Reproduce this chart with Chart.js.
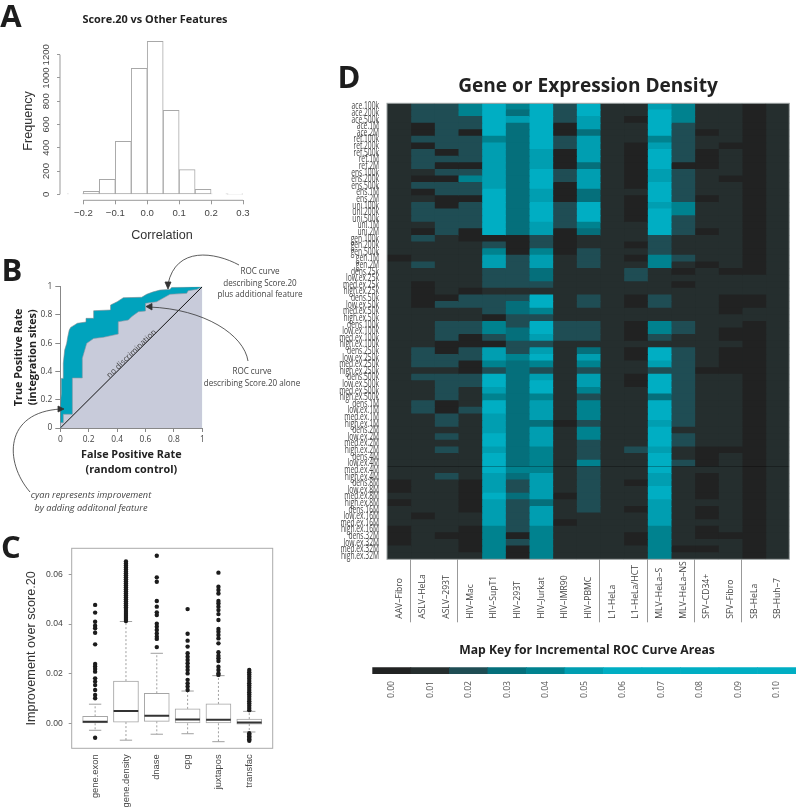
<!DOCTYPE html>
<html>
<head>
<meta charset="utf-8">
<script src="https://cdn.jsdelivr.net/npm/chart.js@4"></script>
<style>
  body { margin: 0; background: #fff; width: 796px; height: 809px; position: relative; overflow: hidden; }
  canvas { position: absolute; }
  svg { position: absolute; left: 0; top: 0; pointer-events: none; }
  .t { position: absolute; white-space: nowrap; transform: translate(-50%, -50%); text-align: center; }
  .letter { font: 700 31px "Open Sans"; color: #1d1d1d; line-height: 1; }
  .head { font-family: "Open Sans"; font-weight: 700; color: #222; }
  .note { font: 8.1px/11.5px "Open Sans"; color: #444; }
  .sans { font-family: "Liberation Sans"; color: #333; }
</style>
</head>
<body>
<canvas id="hist" width="270" height="250" style="left:0;top:0"></canvas>
<canvas id="roc" width="270" height="208" style="left:0;top:270px"></canvas>
<canvas id="box" width="280" height="284" style="left:0;top:525px"></canvas>
<canvas id="heat" width="466" height="540" style="left:330px;top:95px"></canvas>
<canvas id="key" width="436" height="45" style="left:360px;top:660px"></canvas>

<svg width="796" height="809" fill="none" stroke="#333" stroke-width="0.8">
  <path d="M239 265 C215 252 176 246 168 284"/>
  <path d="M248 361 C244 335 205 309 149 307"/>
  <path d="M30 492 C4 462 4 412 61 409"/>
  <path d="M168 289 L165 282 L171 282 Z" fill="#333"/>
  <path d="M146 306.5 L152 303.5 L152 310 Z" fill="#333"/>
  <path d="M64 409 L58 406 L58 412 Z" fill="#333"/>
</svg>

<div class="t letter" style="left:11px;top:15px">A</div>
<div class="t letter" style="left:12px;top:269px">B</div>
<div class="t letter" style="left:11px;top:546px">C</div>
<div class="t letter" style="left:349px;top:76px">D</div>

<div class="t head" style="left:155px;top:18px;font-size:10.9px">Score.20 vs Other Features</div>
<div class="t sans" style="left:162px;top:235px;font-size:12.6px">Correlation</div>
<div class="t sans" style="left:28px;top:121px;font-size:12.6px;transform:translate(-50%,-50%) rotate(-90deg)">Frequency</div>

<div class="t note" style="left:260px;top:282px">ROC curve<br>describing Score.20<br>plus additional feature</div>
<div class="t note" style="left:252px;top:376px">ROC curve<br>describing Score.20 alone</div>
<div class="t note" style="left:91px;top:501px;font-size:9.2px;font-style:italic;line-height:13px">cyan represents improvement<br>by adding additonal feature</div>
<div class="t note" style="left:131px;top:353px;transform:translate(-50%,-50%) rotate(-44deg)">no discrimination</div>

<div class="t head" style="left:588px;top:85px;font-size:19.1px">Gene or Expression Density</div>
<div class="t head" style="left:587px;top:649px;font-size:12.2px">Map Key for Incremental ROC Curve Areas</div>

<script>
// Panel A: histogram
const histCenters = [-0.225, -0.175, -0.125, -0.075, -0.025, 0.025, 0.075, 0.125, 0.175, 0.225, 0.275];
const histCounts = [3, 26, 129, 456, 1083, 1316, 722, 212, 43, 3, 2];
const histXTicks = [-0.2, -0.1, 0, 0.1, 0.2, 0.3];
const histYTicks = [0, 200, 400, 600, 800, 1000, 1200];

// Panel B: ROC curves
const fprPlus = [0, 0, 0.007, 0.007, 0.021, 0.021, 0.031, 0.045, 0.052, 0.063, 0.073, 0.096, 0.12, 0.181, 0.181, 0.235, 0.235, 0.354, 0.354, 0.401, 0.444, 0.573, 0.608, 0.65, 0.702, 0.772, 0.784, 1];
const tprPlus = [0, 0.151, 0.245, 0.351, 0.351, 0.458, 0.552, 0.599, 0.642, 0.693, 0.712, 0.726, 0.741, 0.75, 0.776, 0.776, 0.83, 0.835, 0.87, 0.894, 0.922, 0.925, 0.946, 0.962, 0.976, 0.981, 0.995, 1];
const fprAlone = [0, 0, 0.021, 0.021, 0.085, 0.085, 0.155, 0.155, 0.186, 0.235, 0.304, 0.408, 0.408, 0.479, 0.502, 0.55, 0.6, 0.6, 0.678, 0.772, 0.89, 0.901, 0.96, 1];
const tprAlone = [0, 0.038, 0.038, 0.097, 0.097, 0.354, 0.354, 0.493, 0.599, 0.634, 0.642, 0.665, 0.752, 0.764, 0.788, 0.823, 0.828, 0.882, 0.893, 0.946, 0.953, 0.972, 0.981, 1];
const diagonal = [0, 1];

// Panel C: box plots
const boxNames = ['gene.exon', 'gene.density', 'dnase', 'cpg', 'juxtapos', 'transfac'];
const boxQ1 = [0.0000, 0.0005, 0.0008, 0.0000, 0.0000, -0.0003];
const boxMedian = [0.0006, 0.0050, 0.0030, 0.0015, 0.0014, 0.0003];
const boxQ3 = [0.0028, 0.0170, 0.0121, 0.0058, 0.0078, 0.0017];
const boxLow = [-0.0028, -0.0068, -0.0044, -0.0042, -0.0074, -0.0035];
const boxHigh = [0.0077, 0.0410, 0.0282, 0.0130, 0.0192, 0.0048];
const geneExonOut = [-0.0058, 0.0477, 0.0446, 0.0409, 0.0393, 0.0383, 0.0365, 0.0318, 0.0239, 0.0229, 0.0219, 0.0208, 0.0181, 0.0168, 0.0154, 0.0134, 0.0114, 0.0101];
const geneDensityOut = [0.0412, 0.0420, 0.0428, 0.0436, 0.0444, 0.0452, 0.0460, 0.0468, 0.0476, 0.0484, 0.0492, 0.0500, 0.0508, 0.0516, 0.0524, 0.0532, 0.0540, 0.0548, 0.0556, 0.0564, 0.0572, 0.0580, 0.0588, 0.0596, 0.0604, 0.0612, 0.0620, 0.0628, 0.0636, 0.0644, 0.0652];
const dnaseOut = [0.0675, 0.0588, 0.0570, 0.0493, 0.0470, 0.0447, 0.0436, 0.0401, 0.0389, 0.0376, 0.0362, 0.0349, 0.0340, 0.0307];
const cpgOut = [0.0460, 0.0361, 0.0333, 0.0309, 0.0282, 0.0268, 0.0255, 0.0242, 0.0228, 0.0215, 0.0201, 0.0175, 0.0161, 0.0148, 0.0134];
const juxtaposOut = [0.0607, 0.0550, 0.0537, 0.0523, 0.0493, 0.0483, 0.0470, 0.0456, 0.0440, 0.0416, 0.0380, 0.0369, 0.0356, 0.0342, 0.0322, 0.0286, 0.0272, 0.0262, 0.0251, 0.0228, 0.0215, 0.0201, 0.0195];
const transfacOut = [0.0215, 0.0206, 0.0197, 0.0188, 0.0179, 0.0170, 0.0161, 0.0152, 0.0143, 0.0134, 0.0125, 0.0116, 0.0107, 0.0098, 0.0089, 0.0080, 0.0071, 0.0062, 0.0053, -0.0040, -0.0046, -0.0052, -0.0058, -0.0064, -0.0070];
const boxOutliers = [geneExonOut, geneDensityOut, dnaseOut, cpgOut, juxtaposOut, transfacOut];

// Panel D: heat map, values in hundredths of incremental ROC area
const rowNames = ['ace.100k', 'ace.200k', 'ace.500k', 'ace.1M', 'ace.2M', 'ref.100k', 'ref.200k', 'ref.500k', 'ref.1M', 'ref.2M',
  'ens.100k', 'ens.200k', 'ens.500k', 'ens.1M', 'ens.2M', 'uni.100k', 'uni.200k', 'uni.500k', 'uni.1M', 'uni.2M',
  'gen.100k', 'gen.200k', 'gen.500k', 'gen.1M', 'gen.2M',
  'dens.25k', 'low.ex.25k', 'med.ex.25k', 'high.ex.25k', 'dens.50k', 'low.ex.50k', 'med.ex.50k', 'high.ex.50k',
  'dens.100k', 'low.ex.100k', 'med.ex.100k', 'high.ex.100k', 'dens.250k', 'low.ex.250k', 'med.ex.250k', 'high.ex.250k',
  'dens.500k', 'low.ex.500k', 'med.ex.500k', 'high.ex.500k', 'dens.1M', 'low.ex.1M', 'med.ex.1M', 'high.ex.1M',
  'dens.2M', 'low.ex.2M', 'med.ex.2M', 'high.ex.2M', 'dens.4M', 'low.ex.4M', 'med.ex.4M', 'high.ex.4M',
  'dens.8M', 'low.ex.8M', 'med.ex.8M', 'high.ex.8M', 'dens.16M', 'low.ex.16M', 'med.ex.16M', 'high.ex.16M',
  'dens.32M', 'low.ex.32M', 'med.ex.32M', 'high.ex.32M'];
const colNames = ['AAV–Fibro', 'ASLV–HeLa', 'ASLV–293T', 'HIV–Mac', 'HIV–SupT1', 'HIV–293T', 'HIV–Jurkat', 'HIV–IMR90', 'HIV–PBMC',
  'L1–HeLa', 'L1–HeLa/HCT', 'MLV–HeLa–S', 'MLV–HeLa–NS', 'SFV–CD34+', 'SFV–Fibro', 'SB–HeLa', 'SB–Huh–7'];
const colSeparators = [1, 3, 9, 11, 13, 15];

const aavFibro = [1,1,1,1,1,1,1,1,1,1, 1,1,1,1,1,1,1,1,1,1, 1,1,1,0,1,1,1,1,1,1, 1,1,1,1,1,1,1,1,1,1, 1,1,1,1,1,1,1,1,1,1, 1,1,1,1,1,1,1,0,0,1, 0,1,1,1,0,0,0,1,1];
const aslvHela = [2,2,2,0,0,2,0,2,2,2, 1,0,2,0,1,2,2,2,1,0, 2,1,1,1,2,1,1,0,0,0, 0,1,1,1,1,1,1,2,2,2, 1,2,1,1,1,2,2,1,1,1, 1,1,1,1,1,1,1,1,1,1, 1,1,0,1,1,1,1,1,1];
const aslv293t = [2,2,2,2,2,2,2,0,2,0, 2,0,2,2,0,0,2,2,2,2, 1,1,1,1,1,1,1,1,1,0, 2,1,1,2,2,2,0,0,2,2, 1,2,2,2,2,0,0,2,2,1, 2,1,2,1,1,1,2,1,1,1, 1,1,1,1,1,0,1,1,1];
const hivMac = [4,4,2,2,0,2,2,2,2,0, 2,4,2,2,0,2,2,2,2,0, 0,1,1,1,1,1,1,1,0,2, 2,1,1,2,2,0,0,2,2,0, 0,2,2,1,1,1,2,1,1,1, 1,1,1,1,1,1,1,0,0,0, 0,0,1,1,0,0,0,0,1];
const hivSupT1 = [6,6,6,6,6,4,5,5,5,5, 5,5,5,6,6,6,6,6,6,6, 0,2,4,5,5,2,2,2,1,2, 2,2,0,4,4,2,0,5,5,4, 2,6,6,5,4,6,6,5,5,5, 6,6,5,6,6,6,5,5,5,6, 5,5,5,5,4,4,4,4,4];
const hiv293t = [4,3,5,3,3,3,3,3,3,3, 3,3,3,3,3,3,3,3,3,3, 0,0,0,2,2,2,2,2,1,2, 3,3,2,2,3,3,2,2,4,3, 3,3,3,3,3,3,3,3,3,3, 3,3,3,3,3,4,3,2,2,3, 2,2,2,2,2,0,2,0,0];
const hivJurkat = [6,6,6,6,6,6,6,5,5,5, 6,6,6,5,5,6,6,6,5,5, 2,2,4,5,5,3,3,2,1,6, 6,4,2,6,6,5,2,5,6,4, 2,5,6,6,4,5,5,5,3,5, 5,5,4,4,4,4,5,5,5,5, 3,5,5,5,4,4,4,4,4];
const hivImr90 = [2,2,2,0,0,2,2,0,0,0, 2,2,0,0,0,2,2,2,2,0, 0,0,0,1,1,1,1,1,1,1, 1,1,1,2,2,2,1,1,1,1, 1,1,1,1,1,1,1,1,0,1, 1,1,1,1,1,1,1,1,1,0, 1,1,1,0,1,1,1,1,1];
const hivPbmc = [6,6,5,5,3,5,5,5,5,3, 5,5,5,3,3,6,6,6,4,3, 1,1,2,2,2,1,1,1,1,2, 2,1,1,2,2,2,1,3,5,4, 2,5,5,4,2,4,4,4,2,4, 4,2,2,2,4,2,2,2,2,2, 2,2,1,1,1,1,1,1,1];
const l1Hela = [1,1,1,1,1,1,1,1,1,1, 1,1,1,1,1,1,1,1,1,1, 1,1,1,1,1,1,1,1,1,1, 1,1,1,1,1,1,1,1,1,1, 1,1,1,1,1,1,1,1,1,1, 1,1,1,1,1,1,1,1,1,1, 1,1,1,1,1,1,1,1,1];
const l1HelaHct = [1,1,0,1,1,1,0,0,0,0, 0,0,0,1,0,0,0,0,1,1, 1,0,1,0,1,2,2,1,1,0, 0,1,1,0,0,0,1,0,0,1, 1,0,0,1,1,1,1,1,1,1, 1,1,2,1,1,1,1,0,1,1, 1,0,1,1,1,0,0,1,1];
const mlvHelaS = [5,6,6,6,6,4,5,6,6,6, 5,5,6,6,6,5,6,6,6,6, 2,2,2,4,4,1,1,1,1,2, 2,1,1,4,4,2,1,6,6,5, 2,6,6,6,3,6,6,6,5,6, 6,6,5,6,6,6,5,5,6,6, 5,5,5,5,4,4,4,4,4];
const mlvHelaNs = [4,4,4,2,2,2,2,2,2,0, 2,2,2,2,2,4,4,2,2,2, 1,1,1,2,1,0,1,0,1,1, 1,1,1,2,2,1,1,2,2,2, 2,2,2,2,2,2,2,2,2,1, 2,2,1,1,2,1,1,1,1,1, 1,1,1,1,1,1,1,0,1];
const sfvCd34 = [1,1,1,1,0,1,1,0,0,0, 1,1,1,1,0,1,1,1,1,0, 1,1,1,1,0,1,1,1,1,1, 1,1,1,1,1,1,1,1,1,1, 0,1,1,1,1,1,1,1,1,1, 1,1,0,0,0,1,0,0,0,0, 1,0,0,1,0,0,1,0,1];
const sfvFibro = [1,1,1,1,1,1,0,1,1,1, 1,0,1,1,1,1,1,1,1,1, 1,1,1,1,1,0,1,1,1,0, 0,0,1,1,0,0,1,0,0,0, 0,1,1,1,1,1,1,1,1,1, 1,1,0,1,1,1,1,1,1,1, 1,1,1,1,1,0,1,1,1];
const sbHela = [0,0,0,0,0,0,0,0,0,0, 0,0,0,0,0,0,0,0,0,0, 0,0,0,0,0,0,1,1,1,0, 0,1,1,0,0,0,0,0,0,0, 0,0,0,0,0,0,0,0,0,0, 0,0,0,0,0,0,0,0,0,0, 0,0,0,0,0,0,0,0,0];
const sbHuh7 = [1,1,1,1,1,1,1,1,1,1, 1,1,1,1,1,1,1,1,1,1, 1,1,1,1,1,1,1,1,1,1, 1,1,1,1,1,1,1,1,1,1, 1,1,1,1,1,1,1,1,1,1, 1,1,1,1,1,1,1,1,1,1, 1,1,1,1,1,1,1,1,1];
const heatColumns = [aavFibro, aslvHela, aslv293t, hivMac, hivSupT1, hiv293t, hivJurkat, hivImr90, hivPbmc, l1Hela, l1HelaHct, mlvHelaS, mlvHelaNs, sfvCd34, sfvFibro, sbHela, sbHuh7];

// Map key
const keyValues = ['0.00', '0.01', '0.02', '0.03', '0.04', '0.05', '0.06', '0.07', '0.08', '0.09', '0.10'];
const keyLevels = [0, 1, 2, 3, 4, 5, 6, 6, 6, 6, 6];
const keyBars = [1, 1, 1, 1, 1, 1, 1, 1, 1, 1, 1];
const ramp = ['#212222', '#252e2e', '#1f4d54', '#056f7b', '#00828f', '#009eb1', '#00aec3'];

Chart.defaults.animation = false;
Chart.defaults.responsive = false;
Chart.defaults.plugins.legend.display = false;
Chart.defaults.plugins.tooltip.enabled = false;
Chart.defaults.font.family = '"Liberation Sans"';
Chart.defaults.color = '#444';

/*
    R style axes: the line only runs between the first and last tick
*/
const rAxis = {
    id: 'rAxis',
    afterDraw(chart) {
        const { ctx, chartArea, scales } = chart;
        ctx.save();
        ctx.strokeStyle = '#999';
        ctx.lineWidth = 1;
        ctx.beginPath();
        ctx.moveTo(chartArea.left, scales.y.getPixelForValue(histYTicks[0]));
        ctx.lineTo(chartArea.left, scales.y.getPixelForValue(histYTicks[histYTicks.length - 1]));
        ctx.moveTo(scales.x.getPixelForValue(histXTicks[0]), chartArea.bottom);
        ctx.lineTo(scales.x.getPixelForValue(histXTicks[histXTicks.length - 1]), chartArea.bottom);
        ctx.stroke();
        ctx.restore();
    }
};

/*
    Box round the plot area
*/
const frame = {
    id: 'frame',
    afterDraw(chart, args, opts) {
        const { ctx, chartArea: a } = chart;
        ctx.save();
        ctx.strokeStyle = opts.color;
        ctx.lineWidth = 1;
        ctx.strokeRect(a.left, a.top, a.right - a.left, a.bottom - a.top);
        ctx.restore();
    }
};

/*
    Heat map names: columns read upward from one baseline, rows are squeezed
    sideways as in the figure. Tick labels can't do either.
*/
const heatLabels = {
    id: 'heatLabels',
    afterDraw(chart) {
        const { ctx, scales } = chart;
        ctx.save();
        ctx.fillStyle = '#444';
        ctx.textBaseline = 'middle';
        ctx.font = '8.6px "Open Sans"';
        ctx.textAlign = 'left';
        colNames.forEach((name, i) => {
            ctx.save();
            ctx.translate(scales.x.getPixelForValue(i + 0.5) + 0.5, scales.y.bottom + 59.5);
            ctx.rotate(-Math.PI / 2);
            ctx.fillText(name, 0, 0);
            ctx.restore();
        });
        ctx.font = '10px "Open Sans"';
        ctx.textAlign = 'right';
        rowNames.forEach((name, i) => {
            ctx.save();
            ctx.translate(scales.y.right - 8, scales.y.getPixelForValue(i));
            ctx.scale(0.67, 1);
            ctx.fillText(name, 0, 0);
            ctx.restore();
        });
        ctx.restore();
    }
};

// Panel A
new Chart(document.getElementById('hist'), {
    type: 'bar',
    data: {
        datasets: [{
            data: histCenters.map((x, i) => ({ x: x, y: histCounts[i] })),
            backgroundColor: '#fff',
            borderColor: '#a8a8a8',
            borderWidth: 1,
            borderSkipped: false,
            barPercentage: 1,
            categoryPercentage: 1
        }]
    },
    options: {
        layout: { padding: { top: 30, right: 27 } },
        scales: {
            x: {
                type: 'linear', min: -0.2732, max: 0.3, offset: false,
                afterBuildTicks: s => { s.ticks = histXTicks.map(v => ({ value: v })); },
                afterFit: s => { s.height = 49.7; },
                border: { display: false },
                grid: { drawOnChartArea: false, offset: false, tickLength: 4, color: '#999' },
                ticks: { font: { size: 9.6 }, padding: 3, maxRotation: 0, callback: v => v.toFixed(1).replace('-', '\u2212') }
            },
            y: {
                min: -51.6, max: 1412.7,
                afterBuildTicks: s => { s.ticks = histYTicks.map(v => ({ value: v })); },
                afterFit: s => { s.width = 60; },
                border: { display: false },
                grid: { drawOnChartArea: false, tickLength: 3, color: '#999' },
                ticks: { font: { size: 9.6 }, padding: 0, minRotation: 90, maxRotation: 90, crossAlign: 'center', callback: v => String(v) }
            }
        }
    },
    plugins: [rAxis]
});

// Panel B
new Chart(document.getElementById('roc'), {
    type: 'line',
    data: {
        datasets: [
            {
                data: diagonal.map(v => ({ x: v, y: v })),
                borderColor: '#111', borderWidth: 1, pointRadius: 0, fill: false
            },
            {
                data: fprAlone.map((x, i) => ({ x: x, y: tprAlone[i] })),
                borderColor: '#8b95a3', borderWidth: 0.6, pointRadius: 0, fill: 'origin', backgroundColor: '#c8cbda'
            },
            {
                data: fprPlus.map((x, i) => ({ x: x, y: tprPlus[i] })),
                borderColor: '#7a8a90', borderWidth: 0.6, pointRadius: 0, fill: 'origin', backgroundColor: '#00a3bd'
            }
        ]
    },
    options: {
        layout: { padding: { top: 16.7, right: 67.7 } },
        scales: {
            x: {
                type: 'linear', min: 0, max: 1,
                afterFit: s => { s.height = 50; },
                border: { color: '#888' },
                grid: { drawOnChartArea: false, tickLength: 4, color: '#888' },
                title: { display: true, text: ['False Positive Rate', '(random control)'], font: { family: '"Open Sans"', weight: 700, size: 10.8, lineHeight: 1.45 }, color: '#222', padding: 0 },
                ticks: { stepSize: 0.2, font: { family: '"Open Sans"', size: 8.4 }, padding: 3, maxRotation: 0, callback: v => String(+v.toFixed(1)) }
            },
            y: {
                min: 0, max: 1,
                afterFit: s => { s.width = 60.3; },
                border: { color: '#888' },
                grid: { drawOnChartArea: false, tickLength: 5, color: '#888' },
                title: { display: true, text: ['True Positive Rate', '(integration sites)'], font: { family: '"Open Sans"', weight: 700, size: 10.8, lineHeight: 1.38 }, color: '#222', padding: { top: 11, bottom: 0 } },
                ticks: { stepSize: 0.2, font: { family: '"Open Sans"', size: 8.4 }, padding: 3, callback: v => String(+v.toFixed(1)) }
            }
        }
    }
});

// Panel C
const boxPositions = boxNames.map((n, i) => i + 1);
const boxDatasets = [
    {
        type: 'scatter',
        data: boxOutliers.flatMap((list, i) => list.map(v => ({ x: boxPositions[i], y: v }))),
        backgroundColor: '#1c1c1c', pointRadius: 2.2, borderWidth: 0
    },
    {
        type: 'line',
        data: boxPositions.flatMap((x, i) => [{ x: x - 0.4, y: boxMedian[i] }, { x: x + 0.4, y: boxMedian[i] }, { x: NaN, y: NaN }]),
        borderColor: '#333', borderWidth: 2, pointRadius: 0, fill: false
    },
    {
        type: 'line',
        data: boxPositions.flatMap((x, i) => [
            { x: x - 0.2, y: boxHigh[i] }, { x: x + 0.2, y: boxHigh[i] }, { x: NaN, y: NaN },
            { x: x - 0.2, y: boxLow[i] }, { x: x + 0.2, y: boxLow[i] }, { x: NaN, y: NaN }
        ]),
        borderColor: '#888', borderWidth: 0.8, pointRadius: 0, fill: false
    },
    {
        type: 'bar',
        data: boxPositions.map((x, i) => ({ x: x, y: [boxQ1[i], boxQ3[i]] })),
        backgroundColor: '#fff', borderColor: '#a5a5a5', borderWidth: 1, borderSkipped: false, barThickness: 25
    },
    {
        type: 'line',
        data: boxPositions.flatMap((x, i) => [
            { x: x, y: boxQ3[i] }, { x: x, y: boxHigh[i] }, { x: NaN, y: NaN },
            { x: x, y: boxQ1[i] }, { x: x, y: boxLow[i] }, { x: NaN, y: NaN }
        ]),
        borderColor: '#888', borderWidth: 0.8, borderDash: [2, 2], pointRadius: 0, fill: false
    }
];
new Chart(document.getElementById('box'), {
    data: { datasets: boxDatasets },
    options: {
        layout: { padding: { top: 23.3, right: 7.3, left: 24 } },
        scales: {
            x: {
                type: 'linear', min: 0.24, max: 6.76, offset: false,
                afterBuildTicks: s => { s.ticks = boxPositions.map(v => ({ value: v })); },
                afterFit: s => { s.height = 60.7; },
                border: { display: false },
                grid: { display: false, drawTicks: false, offset: false },
                ticks: { font: { size: 9.4 }, padding: 6, minRotation: 90, maxRotation: 90, callback: v => boxNames[v - 1] }
            },
            y: {
                min: -0.01007, max: 0.0705,
                afterBuildTicks: s => { s.ticks = [0, 0.02, 0.04, 0.06].map(v => ({ value: v })); },
                afterFit: s => { s.width = 47.7; },
                border: { display: false },
                grid: { drawOnChartArea: false, tickLength: 3, color: '#999' },
                title: { display: true, text: 'Improvement over score.20', font: { size: 12.7 }, color: '#333', padding: 0 },
                ticks: { font: { size: 8.6 }, padding: 6, callback: v => v.toFixed(2) }
            }
        },
        plugins: { frame: { color: '#aaa' } }
    },
    plugins: [frame]
});

// Panel D
new Chart(document.getElementById('heat'), {
    type: 'bar',
    data: {
        labels: rowNames,
        datasets: heatColumns.map((col, c) => ({
            data: col.map(() => [c, c + 1]),
            backgroundColor: col.map(v => ramp[v]),
            grouped: false,
            inflateAmount: 0.5,
            barPercentage: 1,
            categoryPercentage: 1
        }))
    },
    options: {
        indexAxis: 'y',
        layout: { padding: { top: 8.3, right: 6.7 } },
        scales: {
            x: {
                type: 'linear', min: 0, max: 17,
                afterFit: s => { s.height = 75.7; },
                border: { display: false },
                grid: {
                    drawOnChartArea: false, tickLength: 63,
                    color: c => colSeparators.includes(c.tick.value) ? '#999' : 'transparent'
                },
                ticks: { stepSize: 1, display: false }
            },
            y: {
                afterFit: s => { s.width = 57; },
                border: { display: false },
                grid: {
                    drawTicks: false, z: 1, lineWidth: 0.7,
                    color: c => c.index === 55 ? 'rgba(0,0,0,0.4)' : 'transparent'
                },
                ticks: { autoSkip: false, display: false }
            }
        },
        plugins: { frame: { color: '#9aa0a0' } }
    },
    plugins: [frame, heatLabels]
});

// Map key
new Chart(document.getElementById('key'), {
    type: 'bar',
    data: {
        labels: keyValues,
        datasets: [{
            data: keyBars,
            backgroundColor: keyLevels.map(v => ramp[v]),
            barPercentage: 1,
            categoryPercentage: 1
        }]
    },
    options: {
        layout: { padding: { top: 7.3, left: 12.3 } },
        scales: {
            x: {
                afterFit: s => { s.height = 31; },
                border: { display: false },
                grid: { display: false, drawTicks: false },
                ticks: { font: { family: '"Open Sans"', size: 8.6 }, color: '#555', padding: 7, minRotation: 90, maxRotation: 90 }
            },
            y: { display: false, min: 0, max: 1 }
        }
    }
});
</script>
</body>
</html>
